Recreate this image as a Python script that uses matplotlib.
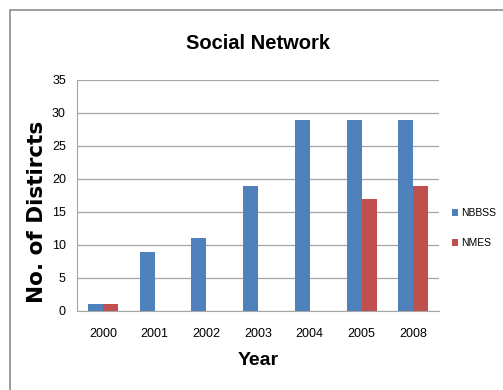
import numpy as np
import matplotlib.pyplot as plt
from matplotlib.patches import Rectangle

years = ["2000", "2001", "2002", "2003", "2004", "2005", "2008"]
nbbss = [1, 9, 11, 19, 29, 29, 29]
nmes = [1, 0, 0, 0, 0, 17, 19]
series_names = ["NBBSS", "NMES"]

plt.rcParams['font.family'] = ['Liberation Sans', 'DejaVu Sans']

fig = plt.figure(figsize=(5.03, 3.90), dpi=100)
ax = fig.add_axes([0.153, 0.2026, 0.72, 0.5924])

# chart border (Excel-style frame, cut at right/bottom)
fig.patches.append(Rectangle((10 / 503, -0.1), 1.2, 1 - 10 / 390 + 0.1,
                             transform=fig.transFigure, fill=False,
                             edgecolor="#8c8c8c", linewidth=1.2))

x = np.arange(len(years))
w = 0.29
ax.bar(x - w / 2, nbbss, w, color="#4F81BD", label=series_names[0], zorder=3)
ax.bar(x + w / 2, nmes, w, color="#C0504D", label=series_names[1], zorder=3)

ax.set_xlim(-0.5, len(years) - 0.5)
ax.set_ylim(0, 35)
ax.set_yticks(range(0, 36, 5))
ax.set_xticks(x)
ax.set_xticklabels(years)
ax.yaxis.grid(True, color="#a6a6a6", linewidth=0.9, zorder=0)
ax.tick_params(axis="both", labelsize=9, length=0, pad=8)
ax.tick_params(axis="x", pad=12)
for s in ["top", "right"]:
    ax.spines[s].set_visible(False)
ax.spines["left"].set_color("#a6a6a6")
ax.spines["bottom"].set_color("#a6a6a6")

ax.set_title("Social Network", fontsize=14.5, fontweight="bold", pad=22)
ax.set_xlabel("Year", fontsize=14, fontweight="bold", labelpad=9)
ax.set_ylabel("No. of Distircts", fontsize=15.5, fontweight="bold",
              family=["DejaVu Sans"])
ax.yaxis.set_label_coords(-0.083, 0.43)

ax.legend(loc="center left", bbox_to_anchor=(1.02, 0.358), frameon=False,
          fontsize=7.5, handlelength=0.6, handleheight=0.6, labelspacing=1.9,
          handletextpad=0.3, borderpad=0)

fig.savefig("out.png", dpi=100)
